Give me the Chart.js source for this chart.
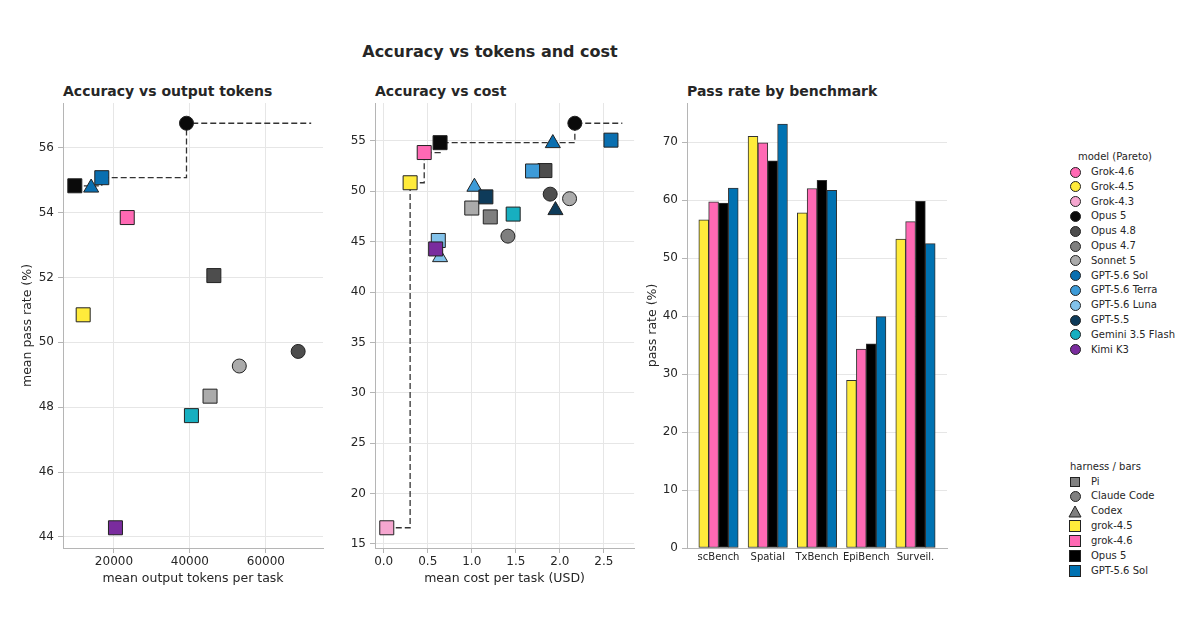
<!DOCTYPE html>
<html>
<head>
<meta charset="utf-8">
<script src="https://cdn.jsdelivr.net/npm/chart.js@4.4.1/dist/chart.umd.min.js"></script>
<style>
  body { margin: 0; width: 1200px; height: 630px; background: #fff; position: relative; overflow: hidden;
         font-family: "DejaVu Sans", sans-serif; color: #262626; }
  canvas { position: absolute; top: 0; }
  .t { position: absolute; font-weight: bold; white-space: nowrap; line-height: 1; }
  .lg { position: absolute; font-size: 10px; line-height: 14px; white-space: nowrap; }
  .mk { position: absolute; box-sizing: border-box; border: 1px solid #222; }
</style>
</head>
<body>
<div class="t" style="left:0;width:980px;text-align:center;top:44px;font-size:16px">Accuracy vs tokens and cost</div>
<div class="t" style="left:63px;top:84px;font-size:14px">Accuracy vs output tokens</div>
<div class="t" style="left:375px;top:84px;font-size:14px">Accuracy vs cost</div>
<div class="t" style="left:687px;top:84px;font-size:14px">Pass rate by benchmark</div>

<canvas id="c1" width="340" height="630" style="left:0px"></canvas>
<canvas id="c2" width="300" height="630" style="left:345px"></canvas>
<canvas id="c3" width="330" height="630" style="left:640px"></canvas>
<div id="legend"></div>

<script>
// models and colours
const models = ["Grok-4.6", "Grok-4.5", "Grok-4.3", "Opus 5", "Opus 4.8", "Opus 4.7", "Sonnet 5",
  "GPT-5.6 Sol", "GPT-5.6 Terra", "GPT-5.6 Luna", "GPT-5.5", "Gemini 3.5 Flash", "Kimi K3"];
const modelColors = ["#ff69b4", "#ffeb3b", "#f5a6cf", "#0a0a0a", "#4d4d4d", "#7f7f7f", "#ababab",
  "#0a6fb0", "#3d9bd8", "#82c2ea", "#0e3b5a", "#17afc0", "#7a2c9e"];
const harnesses = ["Pi", "Claude Code", "Codex"];

// one entry per model/harness run
const ptModel = ["Grok-4.6", "Grok-4.5", "Grok-4.3", "Opus 5", "Opus 5", "Opus 4.8", "Opus 4.8",
  "Opus 4.7", "Opus 4.7", "Sonnet 5", "Sonnet 5", "GPT-5.6 Sol", "GPT-5.6 Sol", "GPT-5.6 Terra",
  "GPT-5.6 Terra", "GPT-5.6 Luna", "GPT-5.6 Luna", "GPT-5.5", "GPT-5.5", "Gemini 3.5 Flash", "Kimi K3"];
const ptHarness = ["Pi", "Pi", "Pi", "Pi", "Claude Code", "Pi", "Claude Code",
  "Pi", "Claude Code", "Pi", "Claude Code", "Pi", "Codex", "Pi",
  "Codex", "Pi", "Codex", "Pi", "Codex", "Pi", "Pi"];
const ptTokens = [23500, 11900, null, 9700, 39100, 46300, 68500,
  null, null, 45300, 53000, 16800, 14000, null,
  null, null, null, null, null, 40400, 20400];
const ptCost = [0.46, 0.30, 0.035, 0.64, 2.17, 1.83, 1.89,
  1.21, 1.41, 1.00, 2.11, 2.58, 1.92, 1.69,
  1.03, 0.62, 0.64, 1.16, 1.95, 1.47, 0.59];
const ptPass = [53.85, 50.85, 16.6, 54.83, 56.76, 52.06, 49.72,
  47.46, 45.55, 48.34, 49.27, 55.08, 54.77, 52.02,
  50.44, 45.12, 43.45, 49.45, 48.12, 47.74, 44.28];

// bar panel
const benches = ["scBench", "Spatial", "TxBench", "EpiBench", "Surveil."];
const barNames = ["grok-4.5", "grok-4.6", "Opus 5", "GPT-5.6 Sol"];
const barColors = ["#ffeb3b", "#ff69b4", "#000000", "#0072b2"];
const grok45 = [56.6, 71.0, 57.8, 28.9, 53.3];
const grok46 = [59.7, 69.9, 62.0, 34.3, 56.3];
const opus5 = [59.5, 66.8, 63.4, 35.2, 59.8];
const gptSol = [62.1, 73.1, 61.7, 39.9, 52.5];
const barValues = [grok45, grok46, opus5, gptSol];

// tick values
const tokTicks = [20000, 40000, 60000];
const passTicksTok = [44, 46, 48, 50, 52, 54, 56];
const costTicks = [0, 0.5, 1.0, 1.5, 2.0, 2.5];
const passTicksCost = [15, 20, 25, 30, 35, 40, 45, 50, 55];
const barTicks = [0, 10, 20, 30, 40, 50, 60, 70];

Chart.defaults.font.family = "DejaVu Sans";
Chart.defaults.color = "#262626";
Chart.defaults.animation = false;

const shapeOf = { "Pi": "rect", "Claude Code": "circle", "Codex": "triangle" };
const radiusOf = { "Pi": 9.9, "Claude Code": 7, "Codex": 8.7 };
const colorOf = (m) => modelColors[models.indexOf(m)];
const fixTicks = (vals) => (s) => { s.ticks = vals.map((v) => ({ value: v })); };

function pareto(xs) {
  const idx = xs.map((x, i) => i).filter((i) => xs[i] != null).sort((a, b) => xs[a] - xs[b]);
  const out = [];
  let best = -Infinity;
  idx.forEach((i) => {
    if (ptPass[i] > best) { best = ptPass[i]; out.push({ x: xs[i], y: ptPass[i] }); }
  });
  const maxX = Math.max(...idx.map((i) => xs[i]));
  out.push({ x: maxX * 1.05, y: best });
  return out;
}

function pad(lo, hi) {
  const m = (hi - lo) * 0.05;
  return [lo - m, hi + m];
}

function scatterPanel(id, xs, opts) {
  const idx = xs.map((x, i) => i).filter((i) => xs[i] != null);
  const front = pareto(xs);
  const allX = idx.map((i) => xs[i]).concat(front.map((p) => p.x));
  const allY = idx.map((i) => ptPass[i]);
  const [x0, x1] = pad(Math.min(...allX), Math.max(...allX));
  const [y0, y1] = pad(Math.min(...allY), Math.max(...allY));
  const grid = { color: "#e6e6e6", tickColor: "#b5b5b5", tickLength: 5 };
  const border = { color: "#b5b5b5" };
  return new Chart(document.getElementById(id), {
    type: "scatter",
    data: {
      datasets: [
        {
          data: idx.map((i) => ({ x: xs[i], y: ptPass[i] })),
          pointStyle: idx.map((i) => shapeOf[ptHarness[i]]),
          pointRadius: idx.map((i) => radiusOf[ptHarness[i]]),
          backgroundColor: idx.map((i) => colorOf(ptModel[i])),
          borderColor: "#222",
          borderWidth: 1,
          order: 1,
        },
        {
          type: "line",
          data: front,
          stepped: "before",
          showLine: true,
          borderColor: "#333",
          borderWidth: 1.3,
          borderDash: [6, 3],
          pointRadius: 0,
          fill: false,
          order: 2,
        },
      ],
    },
    options: {
      responsive: false,
      layout: { padding: opts.padding },
      plugins: { legend: { display: false }, tooltip: { enabled: false } },
      scales: {
        x: {
          type: "linear", min: x0, max: x1,
          grid, border,
          afterBuildTicks: fixTicks(opts.xTicks),
          ticks: { autoSkip: false, padding: 2, font: { size: 12 }, callback: opts.xFmt, maxRotation: 0 },
          title: { display: true, text: opts.xTitle, font: { size: 12.5 } },
          afterFit: (s) => { s.height = 42; },
        },
        y: {
          min: y0, max: y1,
          grid, border,
          afterBuildTicks: fixTicks(opts.yTicks),
          ticks: { autoSkip: false, padding: 4, font: { size: 12 } },
          title: { display: !!opts.yTitle, text: opts.yTitle, font: { size: 12.5 } },
          afterFit: (s) => { s.width = opts.yWidth; },
        },
      },
    },
  });
}

scatterPanel("c1", ptTokens, {
  padding: { left: 16, top: 103, right: 17, bottom: 40 },
  yWidth: 47, xTicks: tokTicks, yTicks: passTicksTok,
  xFmt: (v) => String(v), xTitle: "mean output tokens per task", yTitle: "mean pass rate (%)",
});
scatterPanel("c2", ptCost, {
  padding: { left: 0, top: 103, right: 10, bottom: 40 },
  yWidth: 30, xTicks: costTicks, yTicks: passTicksCost,
  xFmt: (v) => v.toFixed(1), xTitle: "mean cost per task (USD)", yTitle: "",
});

// grouped bars on a linear x axis, 0.2 wide each
const barW = 0.2;
const nSeries = barNames.length;
const barHi = Math.max(...barValues.flat()) * 1.05;
new Chart(document.getElementById("c3"), {
  type: "bar",
  data: {
    datasets: barNames.map((name, j) => ({
      label: name,
      data: benches.map((b, i) => ({ x: i + (j - (nSeries - 1) / 2) * barW, y: barValues[j][i] })),
      backgroundColor: barColors[j],
      borderColor: "#333",
      borderWidth: 1,
      borderSkipped: false,
      grouped: false,
      barPercentage: 1,
      categoryPercentage: 1,
    })),
  },
  options: {
    responsive: false,
    layout: { padding: { left: 1, top: 103, right: 23, bottom: 40 } },
    plugins: { legend: { display: false }, tooltip: { enabled: false } },
    scales: {
      x: {
        type: "linear",
        offset: false,
        min: -0.4 - 0.24, max: benches.length - 0.6 + 0.24,
        grid: { display: true, drawOnChartArea: false, drawTicks: false },
        border: { color: "#b5b5b5" },
        afterBuildTicks: fixTicks(benches.map((b, i) => i)),
        ticks: { autoSkip: false, padding: 3, font: { size: 10 }, maxRotation: 0,
                 callback: (v) => benches[v] ?? "" },
        afterFit: (s) => { s.height = 42; },
      },
      y: {
        min: 0, max: barHi,
        grid: { color: "#e6e6e6", tickColor: "#b5b5b5", tickLength: 5 },
        border: { color: "#b5b5b5" },
        afterBuildTicks: fixTicks(barTicks),
        ticks: { autoSkip: false, padding: 4, font: { size: 12 } },
        title: { display: true, text: "pass rate (%)", font: { size: 12.5 } },
        afterFit: (s) => { s.width = 46; },
      },
    },
  },
});

// figure legend
const lg = document.getElementById("legend");
function addText(x, y, txt) {
  const d = document.createElement("div");
  d.className = "lg";
  d.style.left = x + "px";
  d.style.top = (y - 7) + "px";
  d.textContent = txt;
  lg.appendChild(d);
}
function addMarker(cx, cy, shape, color) {
  if (shape === "triangle") {
    const s = document.createElementNS("http://www.w3.org/2000/svg", "svg");
    s.setAttribute("width", 14); s.setAttribute("height", 13);
    s.style.position = "absolute";
    s.style.left = (cx - 7) + "px"; s.style.top = (cy - 6.5) + "px";
    s.innerHTML = '<polygon points="7,1 13,12 1,12" fill="' + color + '" stroke="#222" stroke-width="1"/>';
    lg.appendChild(s);
    return;
  }
  const d = document.createElement("div");
  d.className = "mk";
  const size = shape === "patch" ? 12 : shape === "rect" ? 10 : 11;
  d.style.width = size + "px"; d.style.height = size + "px";
  d.style.left = (cx - size / 2) + "px"; d.style.top = (cy - size / 2) + "px";
  d.style.background = color;
  if (shape === "circle") d.style.borderRadius = "50%";
  lg.appendChild(d);
}
addText(1078, 157, "model (Pareto)");
models.forEach((m, k) => {
  const y = 172 + k * 14.8;
  addMarker(1075, y, "circle", modelColors[k]);
  addText(1091, y, m);
});
addText(1070, 467, "harness / bars");
harnesses.forEach((h, k) => {
  const y = 481.5 + k * 14.95;
  addMarker(1075, y, shapeOf[h], "#808080");
  addText(1091, y, h);
});
barNames.forEach((n, k) => {
  const y = 481.5 + (k + 3) * 14.95;
  addMarker(1075, y, "patch", barColors[k]);
  addText(1091, y, n);
});
</script>
</body>
</html>
